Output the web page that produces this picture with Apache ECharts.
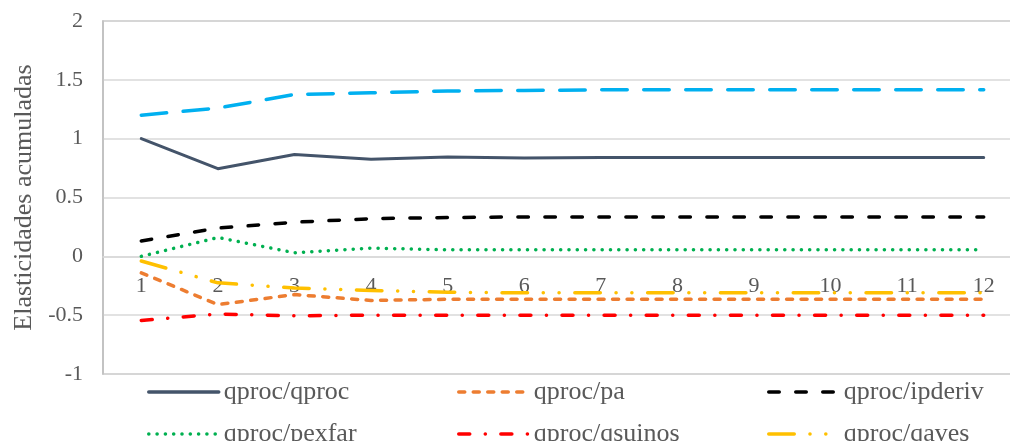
<!DOCTYPE html>
<html>
<head>
<meta charset="utf-8">
<script src="https://cdn.jsdelivr.net/npm/echarts@6/dist/echarts.min.js"></script>
<style>
  html, body { margin: 0; padding: 0; background: #ffffff; }
  #chart { width: 1010px; height: 441px; }
</style>
</head>
<body>
<div id="chart"></div>
<script>
// Accumulated elasticities over 12 periods
const periods = ['1', '2', '3', '4', '5', '6', '7', '8', '9', '10', '11', '12'];

const qprocQproc   = [1.0, 0.745, 0.865, 0.825, 0.845, 0.835, 0.84, 0.84, 0.84, 0.84, 0.84, 0.84];
const qprocPa      = [-0.14, -0.41, -0.325, -0.375, -0.365, -0.365, -0.365, -0.365, -0.365, -0.365, -0.365, -0.365];
const qprocIpderiv = [0.13, 0.24, 0.29, 0.32, 0.33, 0.335, 0.335, 0.335, 0.335, 0.335, 0.335, 0.335];
const qprocPexfar  = [0.0, 0.16, 0.03, 0.07, 0.055, 0.055, 0.055, 0.055, 0.055, 0.055, 0.055, 0.055];
const qprocQsuinos = [-0.545, -0.49, -0.505, -0.5, -0.5, -0.5, -0.5, -0.5, -0.5, -0.5, -0.5, -0.5];
const qprocQaves   = [-0.04, -0.225, -0.27, -0.29, -0.305, -0.31, -0.31, -0.31, -0.31, -0.31, -0.31, -0.31];
const qprocExtra   = [1.2, 1.26, 1.375, 1.39, 1.405, 1.41, 1.415, 1.415, 1.415, 1.415, 1.415, 1.415];

const seriesNames = ['qproc/qproc', 'qproc/pa', 'qproc/ipderiv', 'qproc/pexfar', 'qproc/qsuinos', 'qproc/qaves'];

const FONT = "'Liberation Serif', 'Times New Roman', serif";
const TEXT = '#595959';

// Plot box geometry
const GRID_LEFT = 103, GRID_TOP = 21, GRID_W = 919, GRID_H = 353;
const Y_MIN = -1, Y_MAX = 2;
// Shift the category axis up so it sits on the zero line
const zeroOffset = -GRID_H * (0 - Y_MIN) / (Y_MAX - Y_MIN);

function lineSeries(name, data, color, dash, width) {
  return {
    name: name,
    type: 'line',
    data: data,
    symbol: 'none',
    smooth: false,
    lineStyle: { color: color, width: width, type: dash, cap: 'round', join: 'round' },
    itemStyle: { color: color },
    emphasis: { disabled: true }
  };
}

const series = [
  lineSeries(seriesNames[0], qprocQproc, '#44546a', 'solid', 3),
  lineSeries(seriesNames[1], qprocPa, '#ed7d31', [6, 8.5], 3.5),
  lineSeries(seriesNames[2], qprocIpderiv, '#000000', [10.5, 16.5], 3.5),
  lineSeries(seriesNames[3], qprocPexfar, '#00b050', [0.1, 8.2], 3.5),
  lineSeries(seriesNames[4], qprocQsuinos, '#ff0000', [11, 15.5, 0.1, 15.5], 3.5),
  lineSeries(seriesNames[5], qprocQaves, '#ffc000', [25.5, 15.7, 0.1, 15.7, 0.1, 15.7], 3.5),
  lineSeries('', qprocExtra, '#00b0f0', [25.5, 16.5], 3.5)
];

// Two rows by three columns of legend entries
const legendCols = [147, 457, 767];
const legendRows = [377, 419];
const legends = seriesNames.map(function (name, i) {
  return {
    data: [name],
    left: legendCols[i % 3],
    top: legendRows[Math.floor(i / 3)],
    padding: 0,
    itemWidth: 70,
    itemHeight: 14,
    selectedMode: false,
    itemStyle: { color: 'transparent', borderColor: 'transparent', borderWidth: 0, opacity: 0 },
    lineStyle: { width: 3.5, cap: 'round' },
    textStyle: { fontFamily: FONT, fontSize: 26, color: TEXT, lineHeight: 30 }
  };
});

const chart = echarts.init(document.getElementById('chart'), null, { renderer: 'canvas' });
chart.setOption({
  animation: false,
  backgroundColor: '#ffffff',
  legend: legends,
  grid: {
    left: GRID_LEFT, top: GRID_TOP, width: GRID_W, height: GRID_H,
    outerBoundsMode: 'none',
    containLabel: false,
    show: true, borderColor: '#bfbfbf', borderWidth: 1.5, backgroundColor: 'transparent'
  },
  xAxis: {
    type: 'category',
    data: periods,
    boundaryGap: true,
    offset: zeroOffset,
    axisLine: { show: true, onZero: false, lineStyle: { color: '#d9d9d9', width: 1.5 } },
    axisTick: { show: false },
    axisLabel: { fontFamily: FONT, fontSize: 22, color: TEXT, margin: 19 },
    splitLine: { show: false }
  },
  yAxis: {
    type: 'value',
    min: Y_MIN, max: Y_MAX, interval: 0.5,
    name: 'Elasticidades acumuladas',
    nameLocation: 'middle',
    nameGap: 61,
    nameTextStyle: { fontFamily: FONT, fontSize: 26, color: TEXT },
    axisLine: { show: true, lineStyle: { color: '#bfbfbf', width: 1.5 } },
    axisTick: { show: false },
    axisLabel: { fontFamily: FONT, fontSize: 22, color: TEXT, margin: 20 },
    splitLine: { show: true, lineStyle: { color: '#d9d9d9', width: 1.5 } }
  },
  series: series
});
</script>
</body>
</html>
